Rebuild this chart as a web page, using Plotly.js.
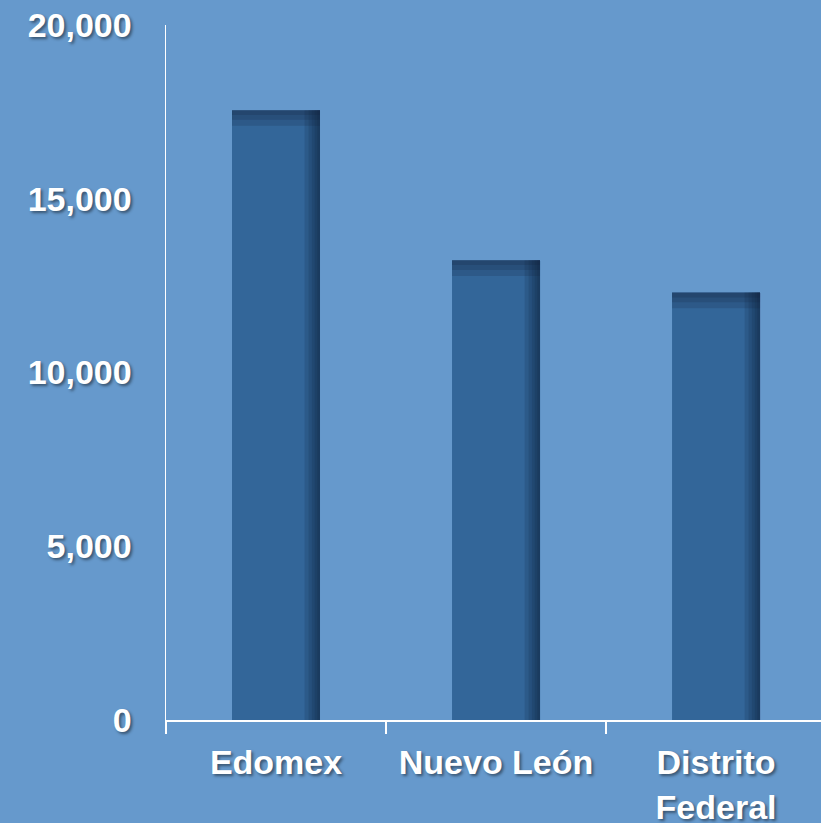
<!DOCTYPE html>
<html>
<head>
<meta charset="utf-8">
<script src="https://cdn.plot.ly/plotly-3.0.1.min.js"></script>
<style>html,body{margin:0;padding:0;background:#6699CC;}#chart{width:821px;height:823px;}</style>
</head>
<body>
<div id="chart"></div>
<script>
var categories = ["Edomex", "Nuevo León", "Distrito<br>Federal"];
var values = [17550, 13230, 12300];
var yTickVals = [0, 5000, 10000, 15000, 20000];
var yTickText = ["0", "5,000", "10,000", "15,000", "20,000"];

var fontBase = {family: "Liberation Sans, Arial, sans-serif", size: 34, color: "#FFFFFF", weight: "bold",
  shadow: "2px 2px 3px rgba(0,0,0,0.45)"};

var traces = [
  {type: "bar", x: categories, y: values, width: 0.4, marker: {color: "#336699", line: {width: 0}}, hoverinfo: "none"}
];
// right-edge soft shadow: overlapping strips ending at the bar's right edge
[0.07, 0.052, 0.037, 0.024, 0.012].forEach(function (w) {
  traces.push({type: "bar", x: categories, y: values, width: w, offset: 0.2 - w,
    marker: {color: "rgba(15,30,55,0.16)", line: {width: 0}}, hoverinfo: "none"});
});
// top-edge shadow: strips hanging down from each bar's top
[450, 280, 140].forEach(function (h) {
  traces.push({type: "bar", x: categories, y: values.map(function () { return h; }),
    base: values.map(function (v) { return v - h; }), width: 0.4,
    marker: {color: "rgba(15,30,55,0.17)", line: {width: 0}}, hoverinfo: "none"});
});

var layout = {
  width: 821, height: 823,
  paper_bgcolor: "#6699CC", plot_bgcolor: "#6699CC",
  margin: {l: 166, r: 0, t: 25, b: 103},
  barmode: "overlay",
  showlegend: false,
  xaxis: {
    type: "category",
    range: [-0.5, 2.477],
    showline: true, linecolor: "#FFFFFF", linewidth: 1.5,
    ticks: "outside", ticklen: 12, tickcolor: "#FFFFFF", tickwidth: 1.5,
    tickson: "boundaries",
    showgrid: false, zeroline: false,
    tickfont: fontBase,
    ticklabelstandoff: 12
  },
  yaxis: {
    range: [0, 20000],
    tickvals: yTickVals, ticktext: yTickText,
    showline: true, linecolor: "#FFFFFF", linewidth: 1.5,
    ticks: "", showgrid: false, zeroline: false,
    tickfont: fontBase,
    ticklabelstandoff: 26
  }
};

Plotly.newPlot("chart", traces, layout, {displayModeBar: false, staticPlot: true});
</script>
</body>
</html>
